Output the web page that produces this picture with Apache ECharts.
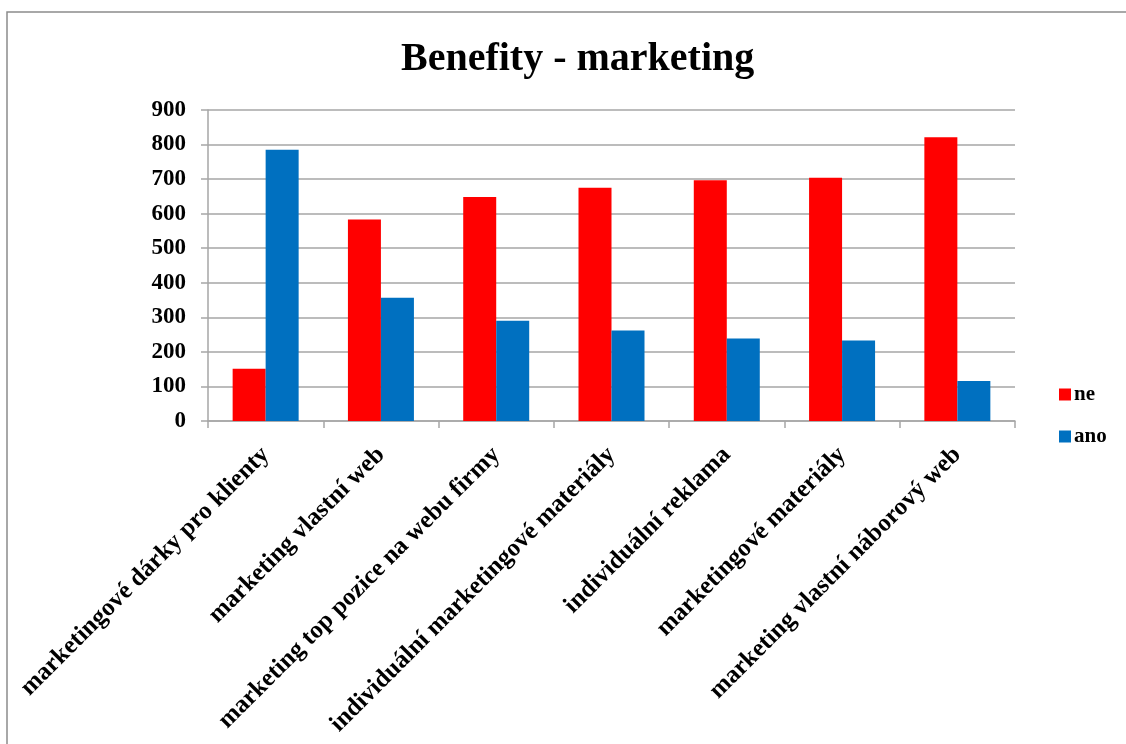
<!DOCTYPE html>
<html>
<head>
<meta charset="utf-8">
<script src="https://cdn.jsdelivr.net/npm/echarts@6/dist/echarts.min.js"></script>
<style>
html,body{margin:0;padding:0;background:#fff;}
#c{width:1126px;height:744px;}
</style>
</head>
<body>
<div id="c"></div>
<script>
const titleText = 'Benefity - marketing';
const categories = [
  'marketingové dárky pro klienty',
  'marketing vlastní web',
  'marketing top pozice na webu firmy',
  'individuální marketingové materiály',
  'individuální reklama',
  'marketingové materiály',
  'marketing vlastní náborový web'
];
const seriesNames = ['ne', 'ano'];
const neValues = [151, 583, 648, 675, 697, 704, 821];
const anoValues = [785, 357, 290, 262, 239, 233, 116];
const yTicks = { min: 0, max: 900, interval: 100 };

const FONT = '"Liberation Serif", "Times New Roman", serif';
const chart = echarts.init(document.getElementById('c'), null, { renderer: 'canvas' });
chart.setOption({
  animation: false,
  backgroundColor: '#fff',
  graphic: [{
    type: 'rect',
    shape: { x: 7, y: 12, width: 1300, height: 900 },
    style: { fill: 'none', stroke: '#8c8c8c', lineWidth: 1.5 },
    silent: true, z: -1
  }],
  title: {
    text: titleText,
    left: 396,
    top: 35,
    textStyle: { fontFamily: FONT, fontWeight: 'bold', fontSize: 40, color: '#000' }
  },
  legend: {
    orient: 'vertical',
    left: 1054,
    top: 379,
    itemWidth: 12,
    itemHeight: 12,
    itemGap: 21,
    icon: 'rect',
    textStyle: { fontFamily: FONT, fontWeight: 'bold', fontSize: 21, color: '#000', padding: [0, 0, 0, -2] },
    data: seriesNames
  },
  grid: { left: 208, right: 111, top: 110, bottom: 323, containLabel: false },
  xAxis: {
    type: 'category',
    data: categories,
    boundaryGap: true,
    axisLine: { show: true, lineStyle: { color: '#a6a6a6', width: 1.5 } },
    axisTick: { show: true, length: 7, alignWithLabel: false, lineStyle: { color: '#a6a6a6', width: 1.5 } },
    axisLabel: {
      interval: 0, rotate: 45, margin: 30,
      fontFamily: FONT, fontWeight: 'bold', fontSize: 25, color: '#000'
    },
    splitLine: { show: false }
  },
  yAxis: {
    type: 'value',
    min: yTicks.min, max: yTicks.max, interval: yTicks.interval,
    axisLine: { show: true, lineStyle: { color: '#a6a6a6', width: 1.5 } },
    axisTick: { show: true, length: 7, lineStyle: { color: '#a6a6a6', width: 1.5 } },
    axisLabel: { margin: 22, fontFamily: FONT, fontWeight: 'bold', fontSize: 23, color: '#000' },
    splitLine: { show: true, lineStyle: { color: '#a6a6a6', width: 1.5 } }
  },
  series: [
    { name: seriesNames[0], type: 'bar', data: neValues, barWidth: 33, barGap: '0%', itemStyle: { color: '#ff0000' } },
    { name: seriesNames[1], type: 'bar', data: anoValues, barWidth: 33, barGap: '0%', itemStyle: { color: '#0070c0' } }
  ]
});
</script>
</body>
</html>
